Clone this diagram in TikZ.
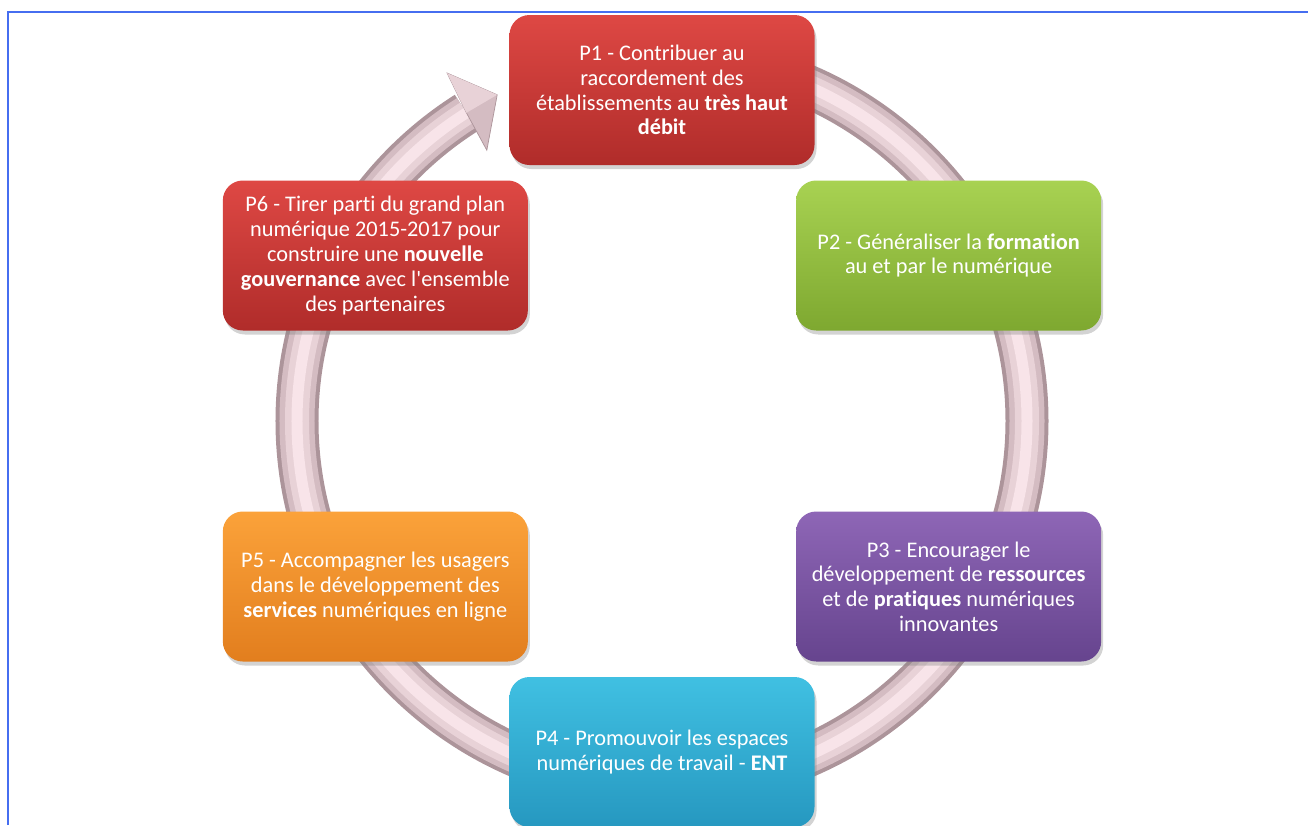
\documentclass[tikz,border=0pt]{standalone}
\usepackage{fontspec}
\setmainfont{Carlito}[Ligatures={TeXOff,NoCommon}]
\usetikzlibrary{shadows}

\definecolor{frameblue}{RGB}{70,110,240}
\definecolor{ringdark}{RGB}{172,148,154}
\definecolor{ringmid}{RGB}{212,188,194}
\definecolor{ringsoft}{RGB}{232,210,215}
\definecolor{ringlight}{RGB}{248,228,233}
\definecolor{redtop}{RGB}{222,72,68}
\definecolor{redbot}{RGB}{176,44,42}
\definecolor{greentop}{RGB}{168,210,82}
\definecolor{greenbot}{RGB}{126,168,48}
\definecolor{purpletop}{RGB}{142,102,182}
\definecolor{purplebot}{RGB}{102,68,142}
\definecolor{cyantop}{RGB}{64,192,226}
\definecolor{cyanbot}{RGB}{38,152,192}
\definecolor{orangetop}{RGB}{251,162,58}
\definecolor{orangebot}{RGB}{226,126,30}

\begin{document}
\begin{tikzpicture}[
    prio/.style={rectangle, rounded corners=0.4cm, minimum width=6.1cm, minimum height=3cm,
        align=center, text=white, font=\fontsize{12.7}{14.1}\selectfont,
        drop shadow={opacity=0.35, shadow xshift=0.04cm, shadow yshift=-0.08cm}},
    redbox/.style={prio, top color=redtop, bottom color=redbot},
    greenbox/.style={prio, top color=greentop, bottom color=greenbot},
    purplebox/.style={prio, top color=purpletop, bottom color=purplebot},
    cyanbox/.style={prio, top color=cyantop, bottom color=cyanbot},
    orangebox/.style={prio, top color=orangetop, bottom color=orangebot}
]
    \useasboundingbox (-13.24,-8.08) rectangle (12.92,8.42);
    \draw[frameblue, line width=1.2pt] (-13.08,-8.08) -- (-13.08,8.18) -- (12.92,8.18);

    % cycle ring with its arrow head
    \coordinate (centre) at (0,0);
    \draw[ringdark, line width=0.86cm] (centre) ++(90:7.3) arc (90:-237.6:7.3);
    \draw[ringmid, line width=0.7cm] (centre) ++(90:7.3) arc (90:-237.6:7.3);
    \draw[ringsoft, line width=0.48cm] (centre) ++(90:7.3) arc (90:-237.6:7.3);
    \draw[ringlight, line width=0.22cm] (centre) ++(90:7.3) arc (90:-237.6:7.3);
    \filldraw[ringmid, draw=ringdark] (116.8:7.31) -- (121.7:8.18) -- (122.4:7.3) -- (122.9:6.45) -- cycle;
    \fill[ringsoft] (116.8:7.31) -- (121.7:8.18) -- (122.4:7.3) -- cycle;

    \node[redbox] (p1) at (90:6.62) {P1 - Contribuer au\\raccordement des\\établissements au \textbf{très haut}\\\textbf{débit}};
    \node[greenbox] (p2) at (30:6.62) {P2 - Généraliser la \textbf{formation}\\au et par le numérique};
    \node[purplebox] (p3) at (-30:6.62) {P3 - Encourager le\\développement de \textbf{ressources}\\et de \textbf{pratiques} numériques\\innovantes};
    \node[cyanbox] (p4) at (-90:6.62) {P4 - Promouvoir les espaces\\numériques de travail - \textbf{ENT}};
    \node[orangebox] (p5) at (-150:6.62) {P5 - Accompagner les usagers\\dans le développement des\\\textbf{services} numériques en ligne};
    \node[redbox] (p6) at (150:6.62) {P6 - Tirer parti du grand plan\\numérique 2015-2017 pour\\construire une \textbf{nouvelle}\\\textbf{gouvernance} avec l'ensemble\\des partenaires};
\end{tikzpicture}
\end{document}
